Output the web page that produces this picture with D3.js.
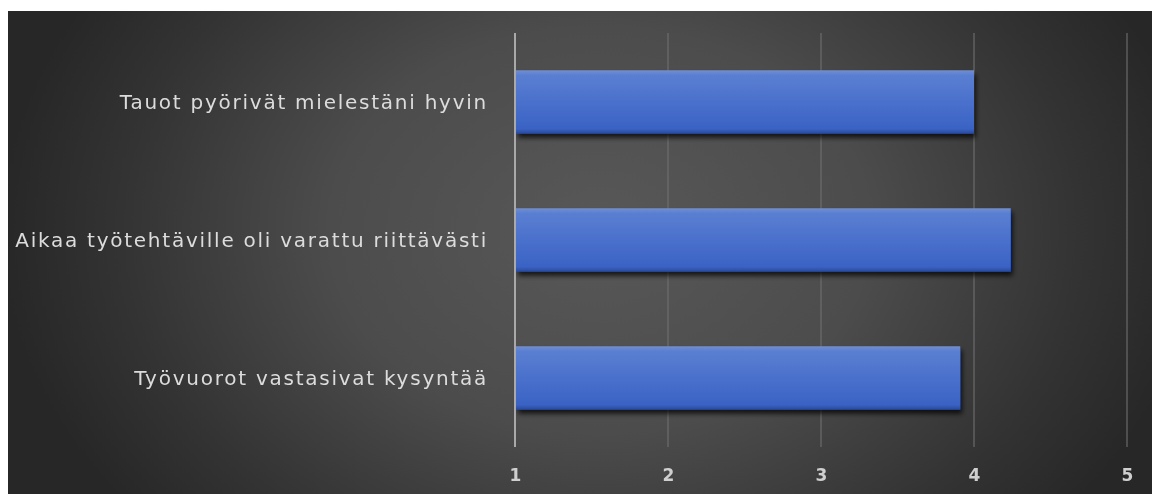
<!DOCTYPE html>
<html>
<head>
<meta charset="utf-8">
<script src="https://cdn.jsdelivr.net/npm/d3@7"></script>
<style>
  html, body { margin: 0; padding: 0; background: #ffffff; }
  svg { display: block; }
</style>
</head>
<body>
<svg id="chart" width="1152" height="494"></svg>
<script>
// Survey statements (top to bottom) and their mean scores on a 1–5 scale
const categories = [
  "Tauot pyörivät mielestäni hyvin",
  "Aikaa työtehtäville oli varattu riittävästi",
  "Työvuorot vastasivat kysyntää"
];
const values = [4.0, 4.24, 3.91];
const tickValues = [1, 2, 3, 4, 5];

const svg = d3.select("#chart");
const W = 1152, H = 494;
const panel = { x: 8, y: 11, w: W - 8, h: H - 11 };
const margin = { left: 515, right: 25, top: 33, bottom: 47 };

const defs = svg.append("defs");

// Dark panel, lighter through the middle and fading to near-black at the sides
const bg = defs.append("radialGradient")
  .attr("id", "bgGrad")
  .attr("gradientUnits", "userSpaceOnUse")
  .attr("cx", 600).attr("cy", 230).attr("r", 600)
  .attr("gradientTransform", "translate(600,230) scale(1,0.75) translate(-600,-230)");
bg.append("stop").attr("offset", "0%").attr("stop-color", "#585858");
bg.append("stop").attr("offset", "45%").attr("stop-color", "#4c4c4c");
bg.append("stop").attr("offset", "80%").attr("stop-color", "#333333");
bg.append("stop").attr("offset", "100%").attr("stop-color", "#272727");

// Bar fill: lighter at the top edge, deeper blue below
const barGrad = defs.append("linearGradient")
  .attr("id", "barGrad").attr("x1", 0).attr("y1", 0).attr("x2", 0).attr("y2", 1);
barGrad.append("stop").attr("offset", "0%").attr("stop-color", "#6f8fd6");
barGrad.append("stop").attr("offset", "8%").attr("stop-color", "#5a7fd2");
barGrad.append("stop").attr("offset", "50%").attr("stop-color", "#4a70cc");
barGrad.append("stop").attr("offset", "92%").attr("stop-color", "#3a63c4");
barGrad.append("stop").attr("offset", "100%").attr("stop-color", "#2a4a96");

// Soft drop shadow under the bars
const shadow = defs.append("filter").attr("id", "barShadow")
  .attr("x", "-5%").attr("y", "-20%").attr("width", "115%").attr("height", "160%");
shadow.append("feGaussianBlur").attr("in", "SourceAlpha").attr("stdDeviation", 2.5).attr("result", "blur");
shadow.append("feOffset").attr("in", "blur").attr("dx", 2).attr("dy", 4).attr("result", "off");
shadow.append("feComponentTransfer").attr("in", "off").attr("result", "shade")
  .append("feFuncA").attr("type", "linear").attr("slope", 0.75);
const merge = shadow.append("feMerge");
merge.append("feMergeNode").attr("in", "shade");
merge.append("feMergeNode").attr("in", "SourceGraphic");

const textBlur = defs.append("filter").attr("id", "soft");
textBlur.append("feGaussianBlur").attr("stdDeviation", 0.5);

svg.append("rect")
  .attr("x", panel.x).attr("y", panel.y)
  .attr("width", panel.w).attr("height", panel.h)
  .attr("fill", "url(#bgGrad)");

const x = d3.scaleLinear()
  .domain([1, 5])
  .range([margin.left, W - margin.right]);

const y = d3.scaleBand()
  .domain(categories)
  .range([margin.top, H - margin.bottom])
  .paddingInner(0.54)
  .paddingOuter(0.27);

// Vertical gridlines
svg.append("g")
  .selectAll("line")
  .data(tickValues.filter(d => d !== 1))
  .join("line")
  .attr("x1", d => x(d)).attr("x2", d => x(d))
  .attr("y1", margin.top).attr("y2", H - margin.bottom)
  .attr("stroke", "#707070")
  .attr("stroke-width", 1.1);

// Bars
svg.append("g")
  .selectAll("rect")
  .data(values)
  .join("rect")
  .attr("x", x(1) + 1)
  .attr("y", (d, i) => y(categories[i]))
  .attr("width", d => x(d) - x(1) - 1)
  .attr("height", y.bandwidth())
  .attr("fill", "url(#barGrad)")
  .attr("filter", "url(#barShadow)");

// Value axis baseline at 1
svg.append("line")
  .attr("x1", x(1)).attr("x2", x(1))
  .attr("y1", margin.top).attr("y2", H - margin.bottom)
  .attr("stroke", "#a9a9a9")
  .attr("stroke-width", 2);

// Category labels
svg.append("g")
  .attr("filter", "url(#soft)")
  .selectAll("text")
  .data(categories)
  .join("text")
  .attr("x", margin.left - 27)
  .attr("y", d => y(d) + y.bandwidth() / 2)
  .attr("text-anchor", "end")
  .attr("dominant-baseline", "central")
  .attr("fill", "#dcdcdc")
  .attr("font-family", "'DejaVu Sans', Verdana, sans-serif")
  .attr("font-size", 20)
  .attr("letter-spacing", 1.75)
  .text(d => d);

// Tick labels along the bottom
const axis = d3.axisBottom(x).tickValues(tickValues).tickSize(0).tickPadding(0).tickFormat(d3.format("d"));
const gx = svg.append("g")
  .attr("transform", `translate(0, ${H - margin.bottom + 34})`)
  .attr("filter", "url(#soft)")
  .call(axis);
gx.select(".domain").remove();
gx.selectAll("text")
  .attr("fill", "#cfcfcf")
  .attr("font-family", "'DejaVu Sans', Verdana, sans-serif")
  .attr("font-size", 17)
  .attr("font-weight", "bold")
  .attr("dy", "0");
</script>
</body>
</html>
